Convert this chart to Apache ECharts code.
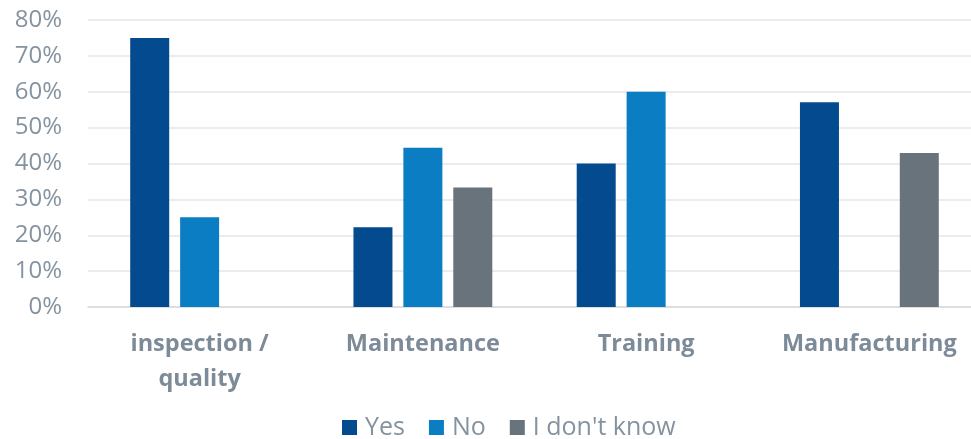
<!DOCTYPE html>
<html>
<head>
<meta charset="utf-8">
<script src="https://cdn.jsdelivr.net/npm/echarts@6/dist/echarts.min.js"></script>
<style>
  html, body { margin: 0; padding: 0; background: #fff; }
  #chart { width: 971px; height: 439px; }
</style>
</head>
<body>
<div id="chart"></div>
<script>
const categories = ['inspection /\nquality', 'Maintenance', 'Training', 'Manufacturing'];
const yesValues = [75, 22.2, 40, 57.1];
const noValues = [25, 44.4, 60, 0];
const dontKnowValues = [0, 33.3, 0, 42.9];
const yTicks = [0, 10, 20, 30, 40, 50, 60, 70, 80];

const chart = echarts.init(document.getElementById('chart'));

const textGray = '#8593a0';

const option = {
  animation: false,
  grid: { left: 88, width: 893, top: 20, bottom: 132, containLabel: false, outerBoundsMode: 'none' },
  legend: {
    top: 410,
    left: 337,
    itemWidth: 15,
    itemHeight: 15,
    itemGap: 24,
    icon: 'rect',
    textStyle: { color: textGray, fontSize: 25, fontFamily: 'Open Sans', padding: [0, 0, 0, 3] },
    data: ['Yes', 'No', "I don't know"]
  },
  xAxis: {
    type: 'category',
    data: categories,
    axisTick: { show: false },
    axisLine: { lineStyle: { color: '#d9d9d9', width: 1.5 } },
    axisLabel: {
      interval: 0,
      hideOverlap: false,
      margin: 20,
      color: '#7d8b98',
      fontSize: 23.5,
      fontWeight: 'bold',
      fontFamily: 'Open Sans',
      lineHeight: 35
    }
  },
  yAxis: {
    type: 'value',
    min: 0,
    max: 80,
    interval: 10,
    axisLine: { show: false },
    axisTick: { show: false },
    splitLine: { lineStyle: { color: '#e6e6e6', width: 1.5 } },
    axisLabel: {
      margin: 26,
      color: textGray,
      fontSize: 24,
      fontFamily: 'Open Sans',
      formatter: v => (yTicks.includes(v) ? v + '%' : '')
    }
  },
  series: [
    { name: 'Yes', type: 'bar', data: yesValues, barWidth: 39, barGap: '28%', barCategoryGap: '37%', itemStyle: { color: '#034a8e' } },
    { name: 'No', type: 'bar', data: noValues, barWidth: 39, itemStyle: { color: '#0a7dc3' } },
    { name: "I don't know", type: 'bar', data: dontKnowValues, barWidth: 39, itemStyle: { color: '#69737b' } }
  ]
};

chart.setOption(option);
</script>
</body>
</html>
